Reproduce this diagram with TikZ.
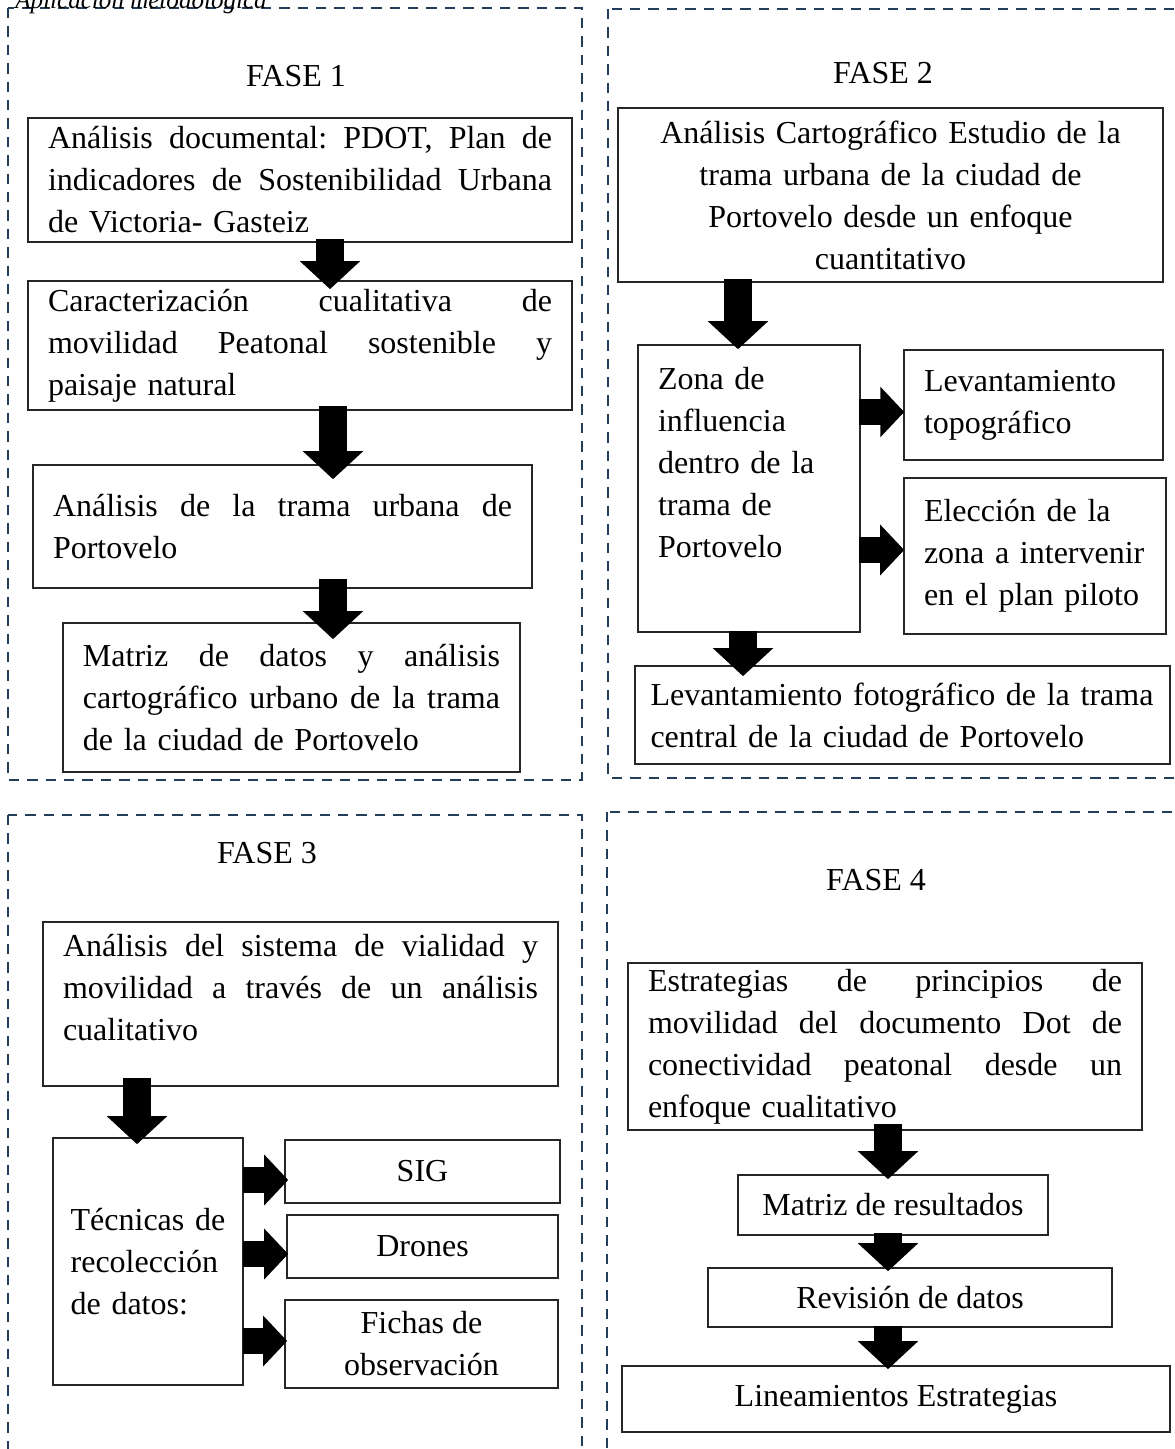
\documentclass[tikz,border=0pt]{standalone}
\usepackage{fontspec}
\setmainfont{Liberation Serif}
\usetikzlibrary{calc}
\usetikzlibrary{arrows.meta}
\definecolor{fasecol}{RGB}{35,62,90}
\tikzset{every picture/.style={x=0.375pt,y=-0.375pt},every node/.style={font=\fontsize{12}{15.75}\selectfont}}
\newlength{\jw}
\newcommand{\jl}[1]{\leavevmode\hbox to \jw{#1}}

\begin{document}
\begin{tikzpicture}[box/.style={draw=black!85, line width=0.6pt, inner xsep=7.5pt, inner ysep=2pt},
  jbox/.style={box, align=left, text width=#1, execute at begin node={\setlength{\jw}{#1}}},
  blk/.style={line width=10.5pt, -{Triangle[width=22pt,length=10.5pt]}},
  blkr/.style={line width=9.5pt, -{Triangle[width=18.5pt,length=9pt]}},
  fase/.style={draw=fasecol, line width=1.1pt, dash pattern=on 3.9pt off 3pt}]
\useasboundingbox (0,0) rectangle (1174,1449);
% marcos de las fases
\draw[fase] (8,8) rectangle (582,780);
\draw[fase] (608,9) rectangle (1180,778);
\draw[fase] (8,815) rectangle (582,1460);
\draw[fase] (607,812) rectangle (1180,1460);
\node (cap) at (6,9) [anchor=base west, font=\itshape\fontsize{9.4}{10}\selectfont] {Aplicación metodológica};
% FASE 1
\node (f1) at (296,76) {FASE 1};
\node (a1) at (300,180) [jbox=189pt, minimum width=204pt, minimum height=46.5pt] {\jl{Análisis\hfill documental:\hfill PDOT,\hfill Plan\hfill de}\\\jl{indicadores\hfill de\hfill Sostenibilidad\hfill Urbana}\\de Victoria- Gasteiz};
\node (b1) at (300,345.5) [jbox=189pt, minimum width=204pt, minimum height=48.4pt] {\jl{Caracterización\hfill cualitativa\hfill de}\\\jl{movilidad\hfill Peatonal\hfill sostenible\hfill y}\\paisaje natural};
\node (c1) at (282.5,526.5) [jbox=172.1pt, minimum width=187.1pt, minimum height=46.1pt] {\jl{Análisis\hfill de\hfill la\hfill trama\hfill urbana\hfill de}\\Portovelo};
\node (d1) at (291.5,697.5) [jbox=156.4pt, minimum width=171.4pt, minimum height=55.9pt] {\jl{Matriz\hfill de\hfill datos\hfill y\hfill análisis}\\\jl{cartográfico\hfill urbano\hfill de\hfill la\hfill trama}\\de la ciudad de Portovelo};
\draw[blk] ($(a1.south)+(30,-4)$) -- ($(b1.north)+(30,9)$);
\draw[blk] ($(b1.south)+(33,-5)$) -- ($(c1.north)+(50.5,15)$);
\draw[blk] ($(c1.south)+(50.5,-10)$) -- ($(d1.north)+(41.5,17)$);
% FASE 2
\node (f2) at (883,73) {FASE 2};
\node (a2) at (890.5,195) [box, align=center, minimum width=204.4pt, minimum height=65.25pt, text width=189.4pt] {Análisis Cartográfico Estudio de la\\trama urbana de la ciudad de\\Portovelo desde un enfoque\\cuantitativo};
\node (b2) at (749,488.5) [jbox=68.25pt, minimum width=83.25pt, minimum height=107.6pt, text depth=82.5pt] {Zona de\\influencia\\dentro de la\\trama de\\Portovelo};
\node (c2) at (1033.5,405) [jbox=82.1pt, minimum width=97.1pt, minimum height=41.25pt] {Levantamiento\\topográfico};
\node (d2) at (1035,556) [jbox=83.25pt, minimum width=98.25pt, minimum height=58.5pt] {Elección de la\\zona a intervenir\\en el plan piloto};
\node (e2) at (902.5,715) [jbox=189pt, inner xsep=5.8pt, minimum width=200.6pt, minimum height=36.75pt] {Levantamiento fotográfico de la trama\\central de la ciudad de Portovelo};
\draw[blk] ($(a2.south)+(-152.5,-4)$) -- ($(b2.north)+(-11,5)$);
\draw[blkr] ($(b2.east)+(-2,-76.5)$) -- ($(c2.west)+(1,7)$);
\draw[blkr] ($(b2.east)+(-2,61.5)$) -- ($(d2.west)+(1,-6)$);
\draw[blk] ($(b2.south)+(-6,-2)$) -- ($(e2.north)+(-159.5,11)$);
% FASE 3
\node (f3) at (267,853) {FASE 3};
\node (a3) at (300.5,1004) [jbox=178.1pt, minimum width=193.1pt, minimum height=61.5pt, text depth=44.25pt] {\jl{Análisis\hfill del\hfill sistema\hfill de\hfill vialidad\hfill y}\\\jl{movilidad\hfill a\hfill través\hfill de\hfill un\hfill análisis}\\cualitativo};
\node (b3) at (148,1261.5) [jbox=58pt, inner xsep=6.6pt, minimum width=71.25pt, minimum height=92.6pt] {Técnicas de\\recolección\\de datos:};
\node (sig) at (422.5,1171.5) [box, minimum width=103.1pt, minimum height=23.6pt] {SIG};
\node (dro) at (422.5,1246.5) [box, minimum width=101.6pt, minimum height=23.6pt] {Drones};
\node (fic) at (421.5,1344) [box, align=center, minimum width=102.4pt, minimum height=33pt] {Fichas de\\observación};
\draw[blk] ($(a3.south)+(-163.5,-9)$) -- ($(b3.north)+(-11,7)$);
\draw[blkr] ($(b3.east)+(-1,-81.5)$) -- ($(sig.west)+(4,8.5)$);
\draw[blkr] ($(b3.east)+(-1,-7.5)$) -- ($(dro.west)+(2,7.5)$);
\draw[blkr] ($(b3.east)+(-1,79.5)$) -- ($(fic.west)+(3,-3)$);
% FASE 4
\node (f4) at (876,880) {FASE 4};
\node (a4) at (885,1046.5) [jbox=177.75pt, minimum width=192.75pt, minimum height=62.6pt] {\jl{Estrategias\hfill de\hfill principios\hfill de}\\\jl{movilidad\hfill del\hfill documento\hfill Dot\hfill de}\\\jl{conectividad\hfill peatonal\hfill desde\hfill un}\\enfoque cualitativo};
\node (m4) at (893,1205) [box, minimum width=116.25pt, minimum height=22.5pt] {Matriz de resultados};
\node (r4) at (910,1297.5) [box, minimum width=151.5pt, minimum height=22.1pt] {Revisión de datos};
\node (l4) at (896,1399) [box, minimum width=205.5pt, minimum height=24.75pt] {Lineamientos Estrategias};
\draw[blk] ($(a4.south)+(3,-7)$) -- ($(m4.north)+(-5,5)$);
\draw[blk] ($(m4.south)+(-5,-3)$) -- ($(r4.north)+(-22,4)$);
\draw[blk] ($(r4.south)+(-22,-2)$) -- ($(l4.north)+(-8,4)$);
\end{tikzpicture}
\end{document}
